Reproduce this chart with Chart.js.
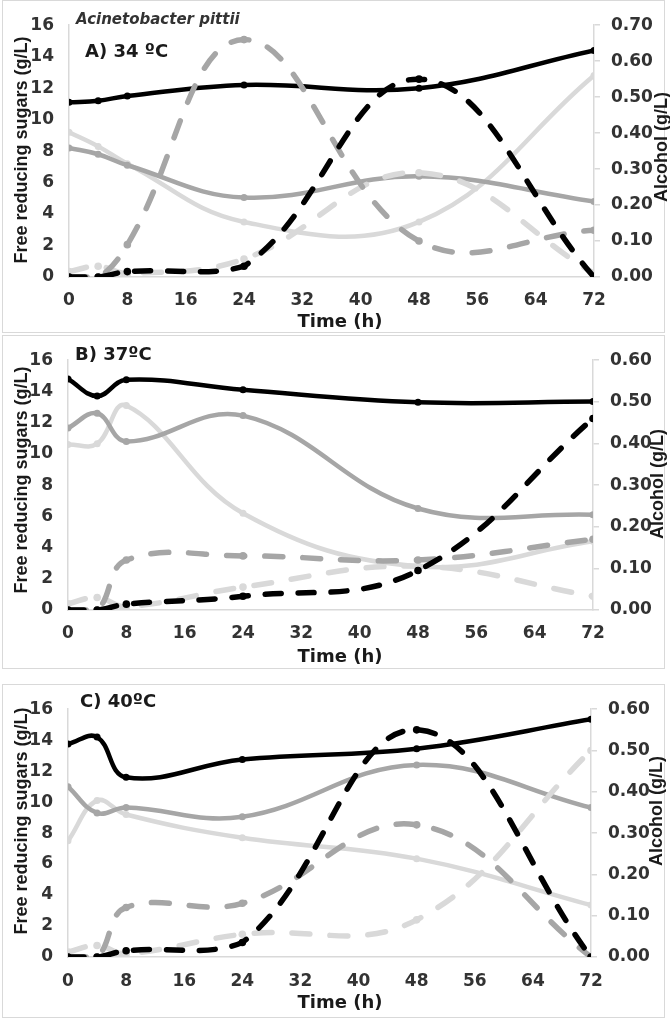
<!DOCTYPE html>
<html><head><meta charset="utf-8">
<script src="https://cdn.jsdelivr.net/npm/chart.js@4.4.1/dist/chart.umd.min.js"></script>
<style>
html,body{margin:0;padding:0;background:#fff;}
#wrap{position:relative;width:670px;height:1019px;overflow:hidden;background:#fff;}
.box{position:absolute;left:2px;width:663px;border:1px solid #d9d9d9;box-sizing:border-box;}
canvas{position:absolute;left:0;}
</style></head><body><div id="wrap">
<div class="box" style="top:0;height:333px"></div>
<div class="box" style="top:335px;height:334px"></div>
<div class="box" style="top:684px;height:334px"></div>
<canvas id="cA" width="670" height="333" style="top:0px"></canvas>
<canvas id="cB" width="670" height="334" style="top:335px"></canvas>
<canvas id="cC" width="670" height="334" style="top:684px"></canvas>
</div>
<script>
// ---- data ----
const times = [0, 4, 8, 24, 48, 72];
const xTicks = [0, 8, 16, 24, 32, 40, 48, 56, 64, 72];

// Panel A (34 ºC)
const sugarA_black = [11.1, 11.2, 11.5, 12.2, 12.0, 14.4];
const sugarA_dark  = [8.2, 7.8, 7.1, 5.05, 6.4, 4.8];
const sugarA_light = [9.2, 8.3, 7.2, 3.5, 3.5, 12.8];
const alcA_black = [0.0, 0.0, 0.015, 0.03, 0.55, 0.0];
const alcA_dark  = [0.0, 0.0, 0.09, 0.66, 0.10, 0.13];
const alcA_light = [0.015, 0.03, 0.01, 0.05, 0.29, 0.01];

// Panel B (37 ºC)
const sugarB_black = [14.8, 13.7, 14.75, 14.1, 13.3, 13.35];
const sugarB_dark  = [11.65, 12.6, 10.8, 12.45, 6.5, 6.1];
const sugarB_light = [10.6, 10.65, 13.1, 6.2, 2.8, 4.4];
const alcB_black = [0.0, 0.0, 0.014, 0.033, 0.095, 0.46];
const alcB_dark  = [0.0, 0.0, 0.12, 0.13, 0.12, 0.17];
const alcB_light = [0.015, 0.03, 0.008, 0.055, 0.105, 0.033];

// Panel C (40 ºC)
const sugarC_black = [13.75, 14.2, 11.6, 12.75, 13.45, 15.35];
const sugarC_dark  = [11.0, 9.3, 9.65, 9.05, 12.4, 9.65];
const sugarC_light = [7.5, 10.1, 9.2, 7.7, 6.35, 3.35];
const alcC_black = [0.0, 0.0, 0.015, 0.035, 0.55, 0.0];
const alcC_dark  = [0.0, 0.0, 0.12, 0.13, 0.32, 0.0];
const alcC_light = [0.012, 0.028, 0.008, 0.055, 0.09, 0.50];

const leftTitle = 'Free reducing sugars (g/L)';
const rightTitle = 'Alcohol (g/L)';
const xTitle = 'Time (h)';
const species = 'Acinetobacter pittii';

// ---- styling ----
const BLACK = '#000000', DARK = '#a6a6a6', LIGHT = '#d9d9d9';
const TICKFONT = {family: '"DejaVu Sans", sans-serif', weight: 'bold', size: 17};

function pts(vals){ return times.map((t,i)=>({x:t, y:vals[i]})); }
function solid(vals, color){
  return {data: pts(vals), yAxisID:'y', borderColor: color, backgroundColor: color,
    borderWidth: 4.5, pointRadius: 3.5, pointBorderWidth: 0, pointBackgroundColor: color,
    tension: 0.4, borderCapStyle:'round', borderJoinStyle:'round', fill:false};
}
function dashed(vals, color, dash){
  return {data: pts(vals), yAxisID:'y2', borderColor: color, backgroundColor: color,
    borderWidth: 5.5, borderDash: dash, pointRadius: 3.8, pointBorderWidth: 0, pointBackgroundColor: color,
    tension: 0.4, borderCapStyle:'round', borderJoinStyle:'round', fill:false};
}

const textPlugin = {
  id: 'panelText',
  afterDraw(chart, args, o){
    const ctx = chart.ctx;
    ctx.save();
    ctx.fillStyle = '#1a1a1a';
    ctx.textBaseline = 'middle';
    // rotated y titles
    ctx.font = 'bold 18px "Liberation Sans", Arial, sans-serif';
    ctx.textAlign = 'center';
    ctx.save(); ctx.translate(o.lx, o.ly); ctx.rotate(-Math.PI/2); ctx.fillText(leftTitle, 0, 0); ctx.restore();
    ctx.save(); ctx.translate(o.rx, o.ry); ctx.rotate(-Math.PI/2); ctx.fillText(rightTitle, 0, 0); ctx.restore();
    // x title
    ctx.font = 'bold 18px "DejaVu Sans", sans-serif';
    ctx.fillText(xTitle, o.tx, o.ty);
    // panel label
    ctx.textAlign = 'left';
    ctx.font = 'bold 18px "DejaVu Sans", sans-serif';
    ctx.fillText(o.label, o.labx, o.laby);
    if (o.species) {
      ctx.fillStyle = '#333333';
      ctx.font = 'italic bold 15px "DejaVu Sans", sans-serif';
      ctx.fillText(species, o.spx, o.spy);
    }
    ctx.restore();
  }
};

function makeChart(id, cfg){
  const canvas = document.getElementById(id);
  const H = canvas.height;
  new Chart(canvas, {
    type: 'line',
    data: { datasets: [
      dashed(cfg.alc[0], BLACK, [16, 17]),
      dashed(cfg.alc[1], DARK, [18, 20]),
      dashed(cfg.alc[2], LIGHT, [18, 20]),
      solid(cfg.sug[0], BLACK),
      solid(cfg.sug[1], DARK),
      solid(cfg.sug[2], LIGHT)
    ]},
    options: {
      responsive: false, animation: false, devicePixelRatio: 1,
      layout: {padding: {top: cfg.top, left: 0, right: 0, bottom: 0}},
      plugins: {legend: {display: false}, tooltip: {enabled: false},
        panelText: cfg.text},
      scales: {
        x: {type: 'linear', min: 0, max: 72,
          afterBuildTicks: s => { s.ticks = xTicks.map(v => ({value: v})); },
          grid: {display: false, drawTicks: false},
          border: {display: true, color: '#d9d9d9', width: 1.5},
          ticks: {font: TICKFONT, color: '#333', padding: cfg.xpad, maxRotation: 0, autoSkip: false},
          afterFit: s => { s.height = H - cfg.bottom; }
        },
        y: {position: 'left', min: 0, max: 16,
          ticks: {stepSize: 2, font: TICKFONT, color: '#333', padding: 15},
          grid: {display: false, drawTicks: false},
          border: {display: true, color: '#d9d9d9', width: 1.5},
          afterFit: s => { s.width = cfg.left; }
        },
        y2: {position: 'right', min: 0, max: cfg.alcMax,
          ticks: {stepSize: 0.1, font: TICKFONT, color: '#333', padding: 11,
            callback: v => Number(v).toFixed(2)},
          grid: {display: true, drawOnChartArea: false, drawTicks: true, tickLength: 6, color: '#d9d9d9', lineWidth: 1.5},
          border: {display: true, color: '#d9d9d9', width: 1.5},
          afterFit: s => { s.width = 670 - cfg.right; }
        }
      }
    },
    plugins: [textPlugin]
  });
}

makeChart('cA', {
  sug: [sugarA_black, sugarA_dark, sugarA_light], alc: [alcA_black, alcA_dark, alcA_light],
  alcMax: 0.7, top: 14, bottom: 277, left: 69, right: 594, xpad: 13,
  text: {lx: 22, ly: 150, rx: 662, ry: 147, tx: 340, ty: 322, label: 'A) 34 ºC', labx: 85, laby: 52, species: true, spx: 76, spy: 20}
});
makeChart('cB', {
  sug: [sugarB_black, sugarB_dark, sugarB_light], alc: [alcB_black, alcB_dark, alcB_light],
  alcMax: 0.6, top: 21, bottom: 275, left: 68, right: 593, xpad: 13,
  text: {lx: 22, ly: 145, rx: 658, ry: 149, tx: 340, ty: 322, label: 'B) 37ºC', labx: 75, laby: 20, species: false}
});
makeChart('cC', {
  sug: [sugarC_black, sugarC_dark, sugarC_light], alc: [alcC_black, alcC_dark, alcC_light],
  alcMax: 0.6, top: 13, bottom: 273, left: 68, right: 591, xpad: 14,
  text: {lx: 22, ly: 137, rx: 657, ry: 127, tx: 340, ty: 319, label: 'C) 40ºC', labx: 80, laby: 18, species: false}
});
</script>
</body></html>
